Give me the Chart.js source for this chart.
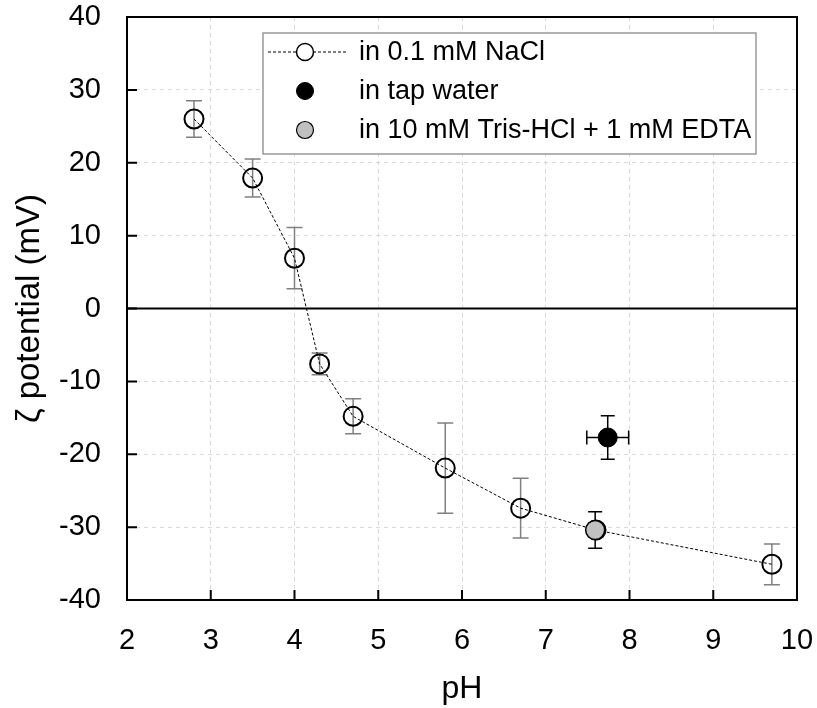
<!DOCTYPE html>
<html>
<head>
<meta charset="utf-8">
<script src="https://cdn.jsdelivr.net/npm/chart.js@4.4.1/dist/chart.umd.min.js"></script>
<style>
  html, body { margin: 0; padding: 0; background: #fff; }
  #myChart { display: block; }
</style>
</head>
<body>
<canvas id="myChart" width="817" height="708"></canvas>
<script>
// values
const naclPH   = [2.8, 3.5, 4.0, 4.3, 4.7, 5.8, 6.7, 7.6, 9.7];
const naclZeta = [26.0, 17.9, 6.9, -7.6, -14.8, -21.9, -27.4, -30.4, -35.1];
const naclErr  = [2.5, 2.6, 4.2, 1.5, 2.4, 6.2, 4.1, null, 2.8];

const tapPH    = [7.74];
const tapZeta  = [-17.7];
const tapErrY  = [3.0];
const tapErrX  = [0.25];

const trisPH   = [7.59];
const trisZeta = [-30.4];
const trisErr  = [2.5];

const labels = ['in 0.1 mM NaCl', 'in tap water', 'in 10 mM Tris-HCl + 1 mM EDTA'];

const FONT = "'Liberation Sans', Arial, sans-serif";

const toPoints = (xs, ys) => xs.map((x, i) => ({ x: x, y: ys[i] }));

// error bars, zero line, frame, inward ticks, legend
const extras = {
    id: 'extras',
    beforeDatasetsDraw(chart) {
        const { ctx, chartArea, scales } = chart;
        const xs = scales.x, ys = scales.y;

        // zero line
        ctx.save();
        ctx.strokeStyle = '#000';
        ctx.lineWidth = 2;
        ctx.beginPath();
        ctx.moveTo(chartArea.left, ys.getPixelForValue(0));
        ctx.lineTo(chartArea.right, ys.getPixelForValue(0));
        ctx.stroke();

        chart.data.datasets.forEach((ds, di) => {
            const meta = chart.getDatasetMeta(di);
            ctx.strokeStyle = ds.errColor;
            ctx.lineWidth = 1.5;
            meta.data.forEach((pt, i) => {
                const p = ds.data[i];
                const cap = ds.capSize;
                if (ds.yErr && ds.yErr[i] != null) {
                    const y1 = ys.getPixelForValue(p.y + ds.yErr[i]);
                    const y2 = ys.getPixelForValue(p.y - ds.yErr[i]);
                    ctx.beginPath();
                    ctx.moveTo(pt.x, y1); ctx.lineTo(pt.x, y2);
                    ctx.moveTo(pt.x - cap, y1); ctx.lineTo(pt.x + cap, y1);
                    ctx.moveTo(pt.x - cap, y2); ctx.lineTo(pt.x + cap, y2);
                    ctx.stroke();
                }
                if (ds.xErr && ds.xErr[i] != null) {
                    const x1 = xs.getPixelForValue(p.x - ds.xErr[i]);
                    const x2 = xs.getPixelForValue(p.x + ds.xErr[i]);
                    ctx.beginPath();
                    ctx.moveTo(x1, pt.y); ctx.lineTo(x2, pt.y);
                    ctx.moveTo(x1, pt.y - cap); ctx.lineTo(x1, pt.y + cap);
                    ctx.moveTo(x2, pt.y - cap); ctx.lineTo(x2, pt.y + cap);
                    ctx.stroke();
                }
            });
        });
        ctx.restore();
    },
    afterDraw(chart) {
        const { ctx, chartArea, scales } = chart;
        const { left, right, top, bottom } = chartArea;
        ctx.save();
        ctx.strokeStyle = '#000';
        ctx.lineWidth = 2;
        ctx.beginPath();
        ctx.rect(left, top, right - left, bottom - top);
        ctx.stroke();

        // inward ticks
        ctx.beginPath();
        scales.x.ticks.forEach(t => {
            const px = scales.x.getPixelForValue(t.value);
            ctx.moveTo(px, bottom); ctx.lineTo(px, bottom - 10);
        });
        scales.y.ticks.forEach(t => {
            const py = scales.y.getPixelForValue(t.value);
            ctx.moveTo(left, py); ctx.lineTo(left + 10, py);
        });
        ctx.stroke();

        // legend
        const box = { x: 263, y: 33, w: 493, h: 121 };
        ctx.fillStyle = '#fff';
        ctx.fillRect(box.x, box.y, box.w, box.h);
        ctx.strokeStyle = '#999';
        ctx.lineWidth = 1.5;
        ctx.strokeRect(box.x, box.y, box.w, box.h);

        const rowY = [52, 91, 130];
        const markX = 305;
        ctx.font = '27px ' + FONT;
        ctx.textBaseline = 'middle';
        ctx.textAlign = 'left';
        chart.data.datasets.forEach((ds, i) => {
            const y = rowY[i];
            if (ds.showLine) {
                ctx.save();
                ctx.strokeStyle = ds.borderColor;
                ctx.lineWidth = 1;
                ctx.setLineDash(ds.borderDash);
                ctx.beginPath();
                ctx.moveTo(268, y); ctx.lineTo(346, y);
                ctx.stroke();
                ctx.restore();
            }
            ctx.beginPath();
            ctx.arc(markX, y, 8.5, 0, Math.PI * 2);
            ctx.fillStyle = ds.pointBackgroundColor !== 'transparent' ? ds.pointBackgroundColor : '#fff';
            ctx.fill();
            ctx.strokeStyle = ds.pointBorderColor;
            ctx.lineWidth = ds.legendBorder;
            ctx.stroke();
            ctx.fillStyle = '#000';
            ctx.fillText(ds.label, 359, y + 1);
        });
        ctx.restore();
    }
};

const ctx = document.getElementById('myChart');

const myChart = new Chart(ctx, {
    type: 'scatter',
    data: {
        datasets: [{
            label: labels[0],
            data: toPoints(naclPH, naclZeta),
            yErr: naclErr,
            errColor: '#808080',
            capSize: 8,
            showLine: true,
            borderColor: '#000',
            borderWidth: 1,
            borderDash: [3, 2],
            pointRadius: 9.5,
            pointBorderWidth: 2,
            pointBorderColor: '#000',
            pointBackgroundColor: 'transparent',
            legendBorder: 1.5,
            order: 3
        }, {
            label: labels[1],
            data: toPoints(tapPH, tapZeta),
            yErr: tapErrY,
            xErr: tapErrX,
            errColor: '#000',
            capSize: 7,
            showLine: false,
            pointRadius: 9.5,
            pointBorderWidth: 1,
            pointBorderColor: '#000',
            pointBackgroundColor: '#000',
            legendBorder: 1,
            order: 1
        }, {
            label: labels[2],
            data: toPoints(trisPH, trisZeta),
            yErr: trisErr,
            errColor: '#000',
            capSize: 7,
            showLine: false,
            pointRadius: 9.5,
            pointBorderWidth: 1.5,
            pointBorderColor: '#000',
            pointBackgroundColor: '#c0c0c0',
            legendBorder: 1.2,
            order: 2
        }]
    },
    options: {
        responsive: false,
        devicePixelRatio: 1,
        animation: false,
        layout: { padding: { top: 17, right: 20, left: 0, bottom: 0 } },
        plugins: {
            legend: { display: false },
            tooltip: { enabled: false }
        },
        scales: {
            x: {
                type: 'linear',
                min: 2,
                max: 10,
                ticks: { stepSize: 1, color: '#000', font: { family: FONT, size: 29 }, padding: 24 },
                grid: { color: '#d9d9d9', drawTicks: false, lineWidth: 1 },
                border: { color: '#000', width: 2, dash: [4, 4] },
                title: { display: true, text: 'pH', color: '#000', font: { family: FONT, size: 32 }, padding: 0 },
                afterFit: (s) => { s.height = 108; s.paddingLeft = 0; s.paddingRight = 0; }
            },
            y: {
                type: 'linear',
                min: -40,
                max: 40,
                ticks: { stepSize: 10, color: '#000', font: { family: FONT, size: 29 }, padding: 26 },
                grid: { color: '#d9d9d9', drawTicks: false, lineWidth: 1 },
                border: { color: '#000', width: 2, dash: [4, 4] },
                title: { display: true, text: 'ζ potential (mV)', color: '#000', font: { family: FONT, size: 33 }, padding: 10 },
                afterFit: (s) => { s.width = 127; s.paddingTop = 0; s.paddingBottom = 0; }
            }
        }
    },
    plugins: [extras]
});
</script>
</body>
</html>
